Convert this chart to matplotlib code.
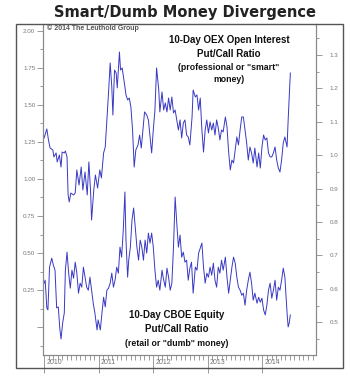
import numpy as np
import matplotlib
matplotlib.use("Agg")
import matplotlib.pyplot as plt
from matplotlib.patches import Rectangle
from matplotlib.ticker import MultipleLocator, FixedLocator

# 10-day OEX open interest put/call ratio (left scale), dates in decimal years
oex_t = [2010.00, 2010.05, 2010.08, 2010.11, 2010.16, 2010.18, 2010.22, 2010.24, 2010.28, 2010.31,
         2010.33, 2010.37, 2010.39, 2010.42, 2010.44, 2010.46, 2010.49, 2010.54, 2010.57, 2010.60,
         2010.64, 2010.68, 2010.71, 2010.75, 2010.79, 2010.82, 2010.85, 2010.87, 2010.91, 2010.94,
         2010.98, 2011.02, 2011.05, 2011.09, 2011.12, 2011.15, 2011.18, 2011.21, 2011.24, 2011.26,
         2011.29, 2011.32, 2011.34, 2011.38, 2011.40, 2011.43, 2011.47, 2011.50, 2011.53, 2011.56,
         2011.59, 2011.62, 2011.65, 2011.68, 2011.72, 2011.75, 2011.78, 2011.81, 2011.84, 2011.88,
         2011.91, 2011.94, 2011.97, 2012.00, 2012.03, 2012.06, 2012.10, 2012.12, 2012.16, 2012.19,
         2012.22, 2012.25, 2012.28, 2012.31, 2012.34, 2012.37, 2012.40, 2012.46, 2012.49, 2012.52,
         2012.55, 2012.58, 2012.61, 2012.64, 2012.67, 2012.71, 2012.73, 2012.77, 2012.80, 2012.83,
         2012.86, 2012.89, 2012.92, 2012.95, 2012.98, 2013.01, 2013.04, 2013.07, 2013.10, 2013.13,
         2013.16, 2013.19, 2013.22, 2013.25, 2013.28, 2013.32, 2013.35, 2013.38, 2013.41, 2013.44,
         2013.47, 2013.50, 2013.53, 2013.56, 2013.59, 2013.62, 2013.65, 2013.68, 2013.71, 2013.74,
         2013.77, 2013.80, 2013.83, 2013.86, 2013.90, 2013.93, 2013.96, 2013.99, 2014.02, 2014.05,
         2014.08, 2014.11, 2014.14, 2014.17, 2014.20, 2014.23, 2014.26, 2014.29, 2014.32, 2014.35,
         2014.38, 2014.41, 2014.45, 2014.47, 2014.51]
oex_v = [1.277, 1.338, 1.264, 1.209, 1.196, 1.149, 1.176, 1.115, 1.162, 1.081,
         1.182, 1.176, 1.189, 1.149, 0.892, 0.845, 0.905, 0.892, 0.905, 1.061,
         0.959, 1.081, 0.926, 1.047, 0.892, 1.115, 0.926, 0.723, 0.926, 1.027,
         0.939, 1.061, 1.007, 1.176, 1.216, 1.399, 1.581, 1.784, 1.622, 1.432,
         1.736, 1.716, 1.615, 1.858, 1.736, 1.750, 1.649, 1.568, 1.534, 1.547,
         1.486, 1.331, 1.081, 1.196, 1.230, 1.297, 1.209, 1.331, 1.453, 1.432,
         1.399, 1.284, 1.176, 1.331, 1.466, 1.750, 1.601, 1.453, 1.588, 1.466,
         1.514, 1.453, 1.547, 1.466, 1.554, 1.446, 1.466, 1.331, 1.399, 1.277,
         1.378, 1.399, 1.297, 1.284, 1.230, 1.419, 1.601, 1.554, 1.568, 1.466,
         1.547, 1.331, 1.182, 1.331, 1.399, 1.311, 1.385, 1.331, 1.378, 1.297,
         1.399, 1.345, 1.264, 1.331, 1.318, 1.419, 1.351, 1.182, 1.061, 1.128,
         1.108, 1.196, 1.284, 1.230, 1.331, 1.419, 1.419, 1.331, 1.243, 1.128,
         1.216, 1.176, 1.108, 1.209, 1.081, 1.176, 1.074, 1.216, 1.297, 1.264,
         1.277, 1.176, 1.149, 1.149, 1.176, 1.216, 1.128, 1.074, 1.047, 1.128,
         1.243, 1.284, 1.216, 1.399, 1.716]

# 10-day CBOE equity put/call ratio (right scale)
cboe_t = [2010.00, 2010.02, 2010.05, 2010.07, 2010.10, 2010.14, 2010.17, 2010.20, 2010.23, 2010.26,
          2010.29, 2010.31, 2010.34, 2010.37, 2010.39, 2010.42, 2010.45, 2010.48, 2010.51, 2010.54,
          2010.57, 2010.60, 2010.63, 2010.66, 2010.69, 2010.72, 2010.75, 2010.78, 2010.81, 2010.84,
          2010.87, 2010.90, 2010.93, 2010.97, 2010.99, 2011.03, 2011.06, 2011.09, 2011.12, 2011.15,
          2011.18, 2011.21, 2011.24, 2011.27, 2011.30, 2011.33, 2011.36, 2011.39, 2011.42, 2011.45,
          2011.48, 2011.50, 2011.53, 2011.55, 2011.58, 2011.61, 2011.64, 2011.67, 2011.70, 2011.73,
          2011.76, 2011.79, 2011.82, 2011.85, 2011.88, 2011.91, 2011.94, 2011.97, 2012.00, 2012.03,
          2012.06, 2012.09, 2012.12, 2012.16, 2012.18, 2012.22, 2012.25, 2012.28, 2012.31, 2012.34,
          2012.37, 2012.40, 2012.43, 2012.46, 2012.49, 2012.52, 2012.55, 2012.58, 2012.61, 2012.64,
          2012.67, 2012.70, 2012.73, 2012.77, 2012.80, 2012.83, 2012.86, 2012.89, 2012.92, 2012.95,
          2012.98, 2013.01, 2013.04, 2013.07, 2013.10, 2013.13, 2013.16, 2013.19, 2013.22, 2013.25,
          2013.28, 2013.32, 2013.35, 2013.38, 2013.41, 2013.44, 2013.47, 2013.50, 2013.53, 2013.56,
          2013.59, 2013.62, 2013.65, 2013.68, 2013.71, 2013.74, 2013.77, 2013.80, 2013.83, 2013.86,
          2013.90, 2013.93, 2013.96, 2013.99, 2014.02, 2014.05, 2014.08, 2014.11, 2014.14, 2014.17,
          2014.20, 2014.23, 2014.26, 2014.29, 2014.32, 2014.35, 2014.38, 2014.41, 2014.45, 2014.47,
          2014.49, 2014.51]
cboe_v = [0.617, 0.626, 0.543, 0.537, 0.665, 0.692, 0.671, 0.656, 0.543, 0.546,
          0.477, 0.450, 0.498, 0.528, 0.656, 0.710, 0.647, 0.602, 0.656, 0.632,
          0.680, 0.647, 0.587, 0.617, 0.605, 0.665, 0.635, 0.605, 0.596, 0.635,
          0.596, 0.557, 0.528, 0.477, 0.507, 0.477, 0.528, 0.575, 0.546, 0.596,
          0.602, 0.617, 0.647, 0.605, 0.626, 0.665, 0.647, 0.725, 0.695, 0.776,
          0.890, 0.746, 0.635, 0.686, 0.725, 0.806, 0.842, 0.785, 0.725, 0.686,
          0.746, 0.725, 0.686, 0.746, 0.707, 0.767, 0.737, 0.767, 0.725, 0.656,
          0.605, 0.626, 0.596, 0.656, 0.635, 0.605, 0.662, 0.635, 0.596, 0.617,
          0.725, 0.875, 0.797, 0.725, 0.761, 0.695, 0.710, 0.680, 0.686, 0.626,
          0.662, 0.680, 0.587, 0.665, 0.656, 0.707, 0.722, 0.737, 0.665, 0.617,
          0.647, 0.635, 0.665, 0.641, 0.677, 0.626, 0.605, 0.665, 0.647, 0.686,
          0.656, 0.695, 0.635, 0.587, 0.626, 0.665, 0.695, 0.677, 0.635, 0.605,
          0.596, 0.581, 0.587, 0.551, 0.596, 0.626, 0.650, 0.617, 0.566, 0.587,
          0.557, 0.575, 0.560, 0.572, 0.537, 0.522, 0.551, 0.596, 0.617, 0.572,
          0.596, 0.626, 0.566, 0.605, 0.596, 0.626, 0.662, 0.635, 0.528, 0.486,
          0.498, 0.522]

years = [2010, 2011, 2012, 2013, 2014]
left_ticks = [0.0, 0.25, 0.5, 0.75, 1.0, 1.25, 1.5, 1.75, 2.0]
left_labels = ["", "0.25", "0.50", "0.75", "1.00", "1.25", "1.50", "1.75", "2.00"]
right_ticks = [0.5, 0.6, 0.7, 0.8, 0.9, 1.0, 1.1, 1.2, 1.3]
right_labels = ["0.5", "0.6", "0.7", "0.8", "0.9", "1.0", "1.1", "1.2", "1.3"]

W, H = 350, 376
fig = plt.figure(figsize=(3.5, 3.76), dpi=100)
fig.patch.set_facecolor("white")

ax = fig.add_axes([43/W, 1-355/H, (316-43)/W, (355-24)/H])
bx = ax.twinx()

lc = "#3838c4"
ax.plot(oex_t, oex_v, "-", color=lc, lw=0.7)
bx.plot(cboe_t, cboe_v, "-", color=lc, lw=0.7)

ax.set_xlim(2009.98, 2014.98)
ax.set_ylim(-0.189, 2.047)
bx.set_ylim(0.402, 1.393)

sc = "#8a8a8a"
for a in (ax, bx):
    for s in a.spines.values():
        s.set_color(sc)
        s.set_linewidth(0.8)
    a.spines["top"].set_visible(False)

ax.yaxis.set_major_locator(FixedLocator(left_ticks))
ax.set_yticklabels(left_labels)
ax.yaxis.set_minor_locator(MultipleLocator(0.125))
bx.yaxis.set_major_locator(FixedLocator(right_ticks))
bx.set_yticklabels(right_labels)
bx.yaxis.set_minor_locator(MultipleLocator(0.05))

ax.xaxis.set_major_locator(FixedLocator(years))
ax.set_xticklabels([])
ax.xaxis.set_minor_locator(MultipleLocator(1/12))

tfam = ["Liberation Sans", "DejaVu Sans"]
ax.tick_params(axis="y", which="major", length=4, width=0.6, color=sc,
               labelsize=4.5, labelcolor="#777777", pad=1.5)
ax.tick_params(axis="y", which="minor", length=2, width=0.6, color=sc)
bx.tick_params(axis="y", which="major", length=4, width=0.6, color=sc,
               labelsize=4.5, labelcolor="#777777", pad=6)
bx.tick_params(axis="y", which="minor", length=2, width=0.6, color=sc)
ax.tick_params(axis="x", which="major", length=13, width=0.6, color=sc)
ax.tick_params(axis="x", which="minor", length=3.5, width=0.6, color=sc)
for lab in ax.get_yticklabels() + bx.get_yticklabels():
    lab.set_family(tfam)

for yr in years:
    ax.text(yr + 0.04, -0.024, str(yr), transform=ax.get_xaxis_transform(),
            ha="left", va="center", fontsize=5, color="#777777", family=tfam)

# outer frame
fig.patches.append(Rectangle((16/W, 1-368/H), (343-16)/W, (368-24)/H,
                             transform=fig.transFigure, fill=False,
                             edgecolor="#555555", lw=1.0))

fig.text(185/W, 1-12/H, "Smart/Dumb Money Divergence", ha="center", va="center",
         fontsize=10.5, fontweight="bold", color="#222222", family="DejaVu Sans")
fig.text(47/W, 1-28/H, "\u00a9 2014 The Leuthold Group", ha="left", va="center",
         fontsize=5, fontweight="bold", color="#555555", family=tfam)

fig.text(229/W, 1-40/H, "10-Day OEX Open Interest", ha="center", va="center",
         fontsize=7, fontweight="bold", color="#111111", family=tfam)
fig.text(229/W, 1-54/H, "Put/Call Ratio", ha="center", va="center",
         fontsize=7, fontweight="bold", color="#111111", family=tfam)
fig.text(229/W, 1-67/H, "(professional or \"smart\"", ha="center", va="center",
         fontsize=6.3, fontweight="bold", color="#111111", family=tfam)
fig.text(229/W, 1-80/H, "money)", ha="center", va="center",
         fontsize=6.3, fontweight="bold", color="#111111", family=tfam)

fig.text(177/W, 1-315/H, "10-Day CBOE Equity", ha="center", va="center",
         fontsize=7, fontweight="bold", color="#111111", family=tfam)
fig.text(177/W, 1-329/H, "Put/Call Ratio", ha="center", va="center",
         fontsize=7, fontweight="bold", color="#111111", family=tfam)
fig.text(177/W, 1-343/H, "(retail or \"dumb\" money)", ha="center", va="center",
         fontsize=6.3, fontweight="bold", color="#111111", family=tfam)

fig.savefig("out.png", dpi=100)
